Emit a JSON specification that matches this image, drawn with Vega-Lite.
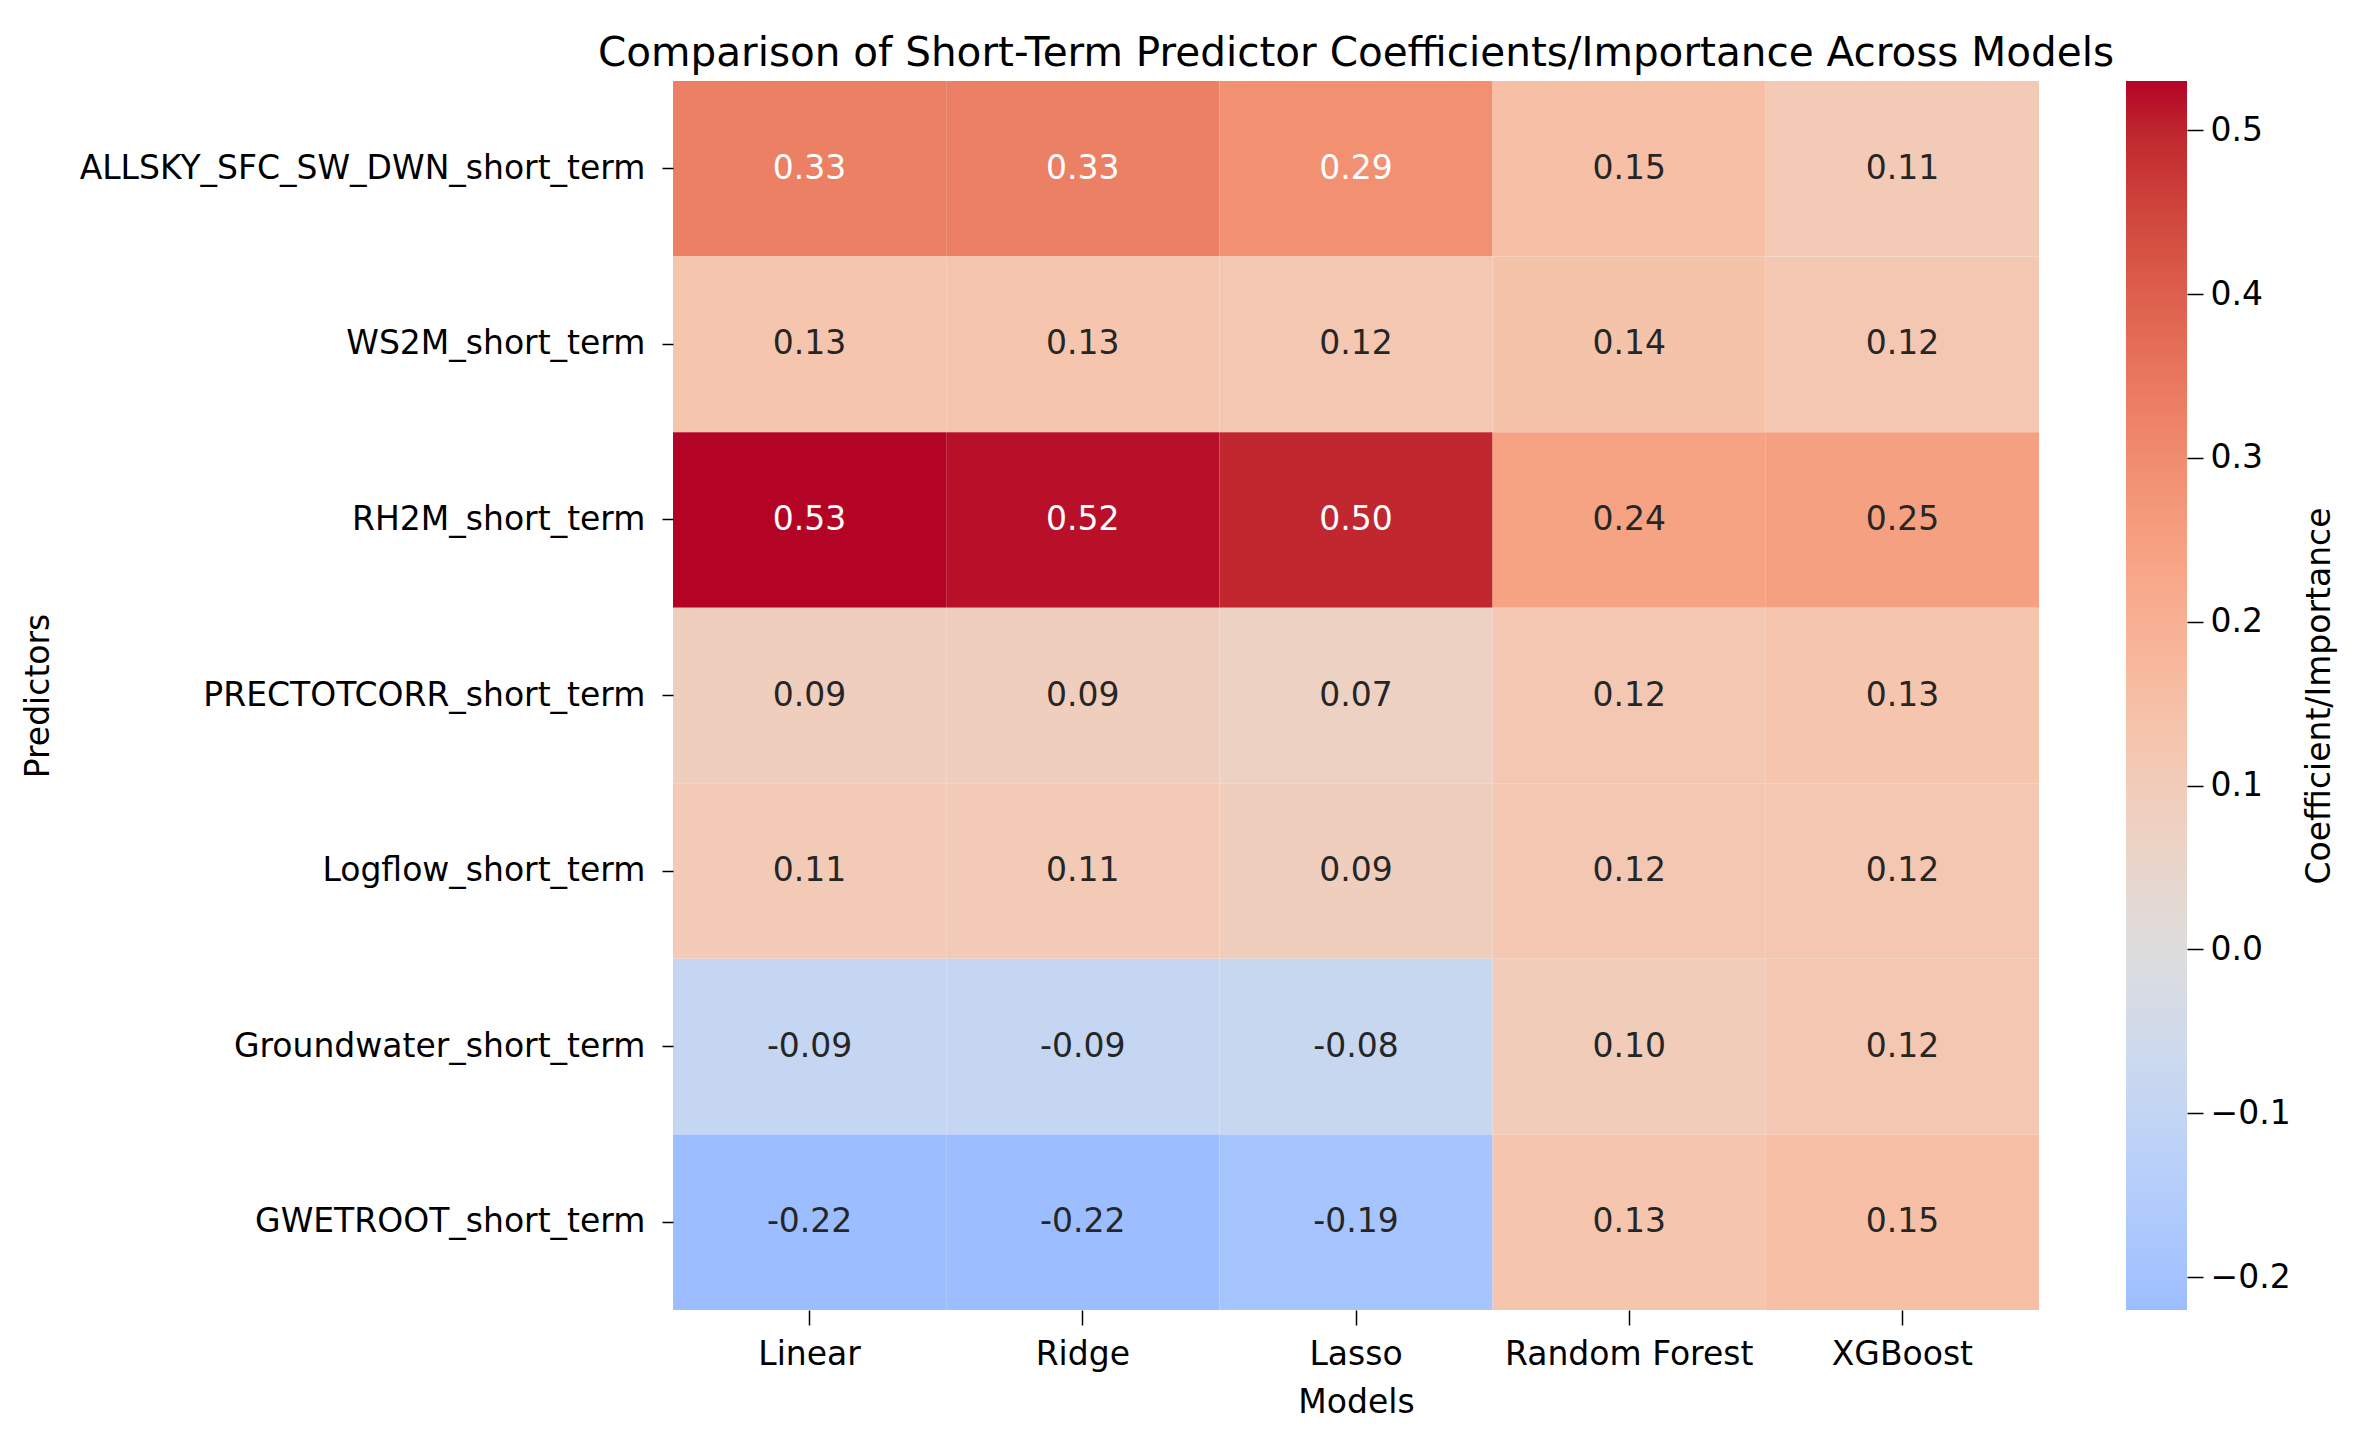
{
  "$schema": "https://vega.github.io/schema/vega-lite/v6.json",
  "autosize": {"type": "pad"},
  "padding": {"left": 22, "top": 33, "right": 5, "bottom": 5},
  "background": "white",
  "data": {
    "values": [
      {"predictor": "ALLSKY_SFC_SW_DWN_short_term", "model": "Linear", "value": 0.33},
      {"predictor": "ALLSKY_SFC_SW_DWN_short_term", "model": "Ridge", "value": 0.33},
      {"predictor": "ALLSKY_SFC_SW_DWN_short_term", "model": "Lasso", "value": 0.29},
      {"predictor": "ALLSKY_SFC_SW_DWN_short_term", "model": "Random Forest", "value": 0.15},
      {"predictor": "ALLSKY_SFC_SW_DWN_short_term", "model": "XGBoost", "value": 0.11},
      {"predictor": "WS2M_short_term", "model": "Linear", "value": 0.13},
      {"predictor": "WS2M_short_term", "model": "Ridge", "value": 0.13},
      {"predictor": "WS2M_short_term", "model": "Lasso", "value": 0.12},
      {"predictor": "WS2M_short_term", "model": "Random Forest", "value": 0.14},
      {"predictor": "WS2M_short_term", "model": "XGBoost", "value": 0.12},
      {"predictor": "RH2M_short_term", "model": "Linear", "value": 0.53},
      {"predictor": "RH2M_short_term", "model": "Ridge", "value": 0.52},
      {"predictor": "RH2M_short_term", "model": "Lasso", "value": 0.50},
      {"predictor": "RH2M_short_term", "model": "Random Forest", "value": 0.24},
      {"predictor": "RH2M_short_term", "model": "XGBoost", "value": 0.25},
      {"predictor": "PRECTOTCORR_short_term", "model": "Linear", "value": 0.09},
      {"predictor": "PRECTOTCORR_short_term", "model": "Ridge", "value": 0.09},
      {"predictor": "PRECTOTCORR_short_term", "model": "Lasso", "value": 0.07},
      {"predictor": "PRECTOTCORR_short_term", "model": "Random Forest", "value": 0.12},
      {"predictor": "PRECTOTCORR_short_term", "model": "XGBoost", "value": 0.13},
      {"predictor": "Logflow_short_term", "model": "Linear", "value": 0.11},
      {"predictor": "Logflow_short_term", "model": "Ridge", "value": 0.11},
      {"predictor": "Logflow_short_term", "model": "Lasso", "value": 0.09},
      {"predictor": "Logflow_short_term", "model": "Random Forest", "value": 0.12},
      {"predictor": "Logflow_short_term", "model": "XGBoost", "value": 0.12},
      {"predictor": "Groundwater_short_term", "model": "Linear", "value": -0.09},
      {"predictor": "Groundwater_short_term", "model": "Ridge", "value": -0.09},
      {"predictor": "Groundwater_short_term", "model": "Lasso", "value": -0.08},
      {"predictor": "Groundwater_short_term", "model": "Random Forest", "value": 0.10},
      {"predictor": "Groundwater_short_term", "model": "XGBoost", "value": 0.12},
      {"predictor": "GWETROOT_short_term", "model": "Linear", "value": -0.22},
      {"predictor": "GWETROOT_short_term", "model": "Ridge", "value": -0.22},
      {"predictor": "GWETROOT_short_term", "model": "Lasso", "value": -0.19},
      {"predictor": "GWETROOT_short_term", "model": "Random Forest", "value": 0.13},
      {"predictor": "GWETROOT_short_term", "model": "XGBoost", "value": 0.15}
    ]
  },
  "spacing": 11,
  "hconcat": [
    {
      "width": 1366,
      "height": 1229,
      "title": {
        "text": "Comparison of Short-Term Predictor Coefficients/Importance Across Models",
        "frame": "group",
        "anchor": "middle",
        "offset": 7
      },
      "encoding": {
        "x": {
          "field": "model",
          "type": "nominal",
          "sort": ["Linear", "Ridge", "Lasso", "Random Forest", "XGBoost"],
          "title": "Models",
          "scale": {"paddingInner": 0, "paddingOuter": 0},
          "axis": {"labelAngle": 0, "tickSize": 15, "labelPadding": 13, "titlePadding": 15}
        },
        "y": {
          "field": "predictor",
          "type": "nominal",
          "sort": ["ALLSKY_SFC_SW_DWN_short_term", "WS2M_short_term", "RH2M_short_term", "PRECTOTCORR_short_term", "Logflow_short_term", "Groundwater_short_term", "GWETROOT_short_term"],
          "title": "Predictors",
          "scale": {"paddingInner": 0, "paddingOuter": 0},
          "axis": {"tickSize": 11, "labelPadding": 17, "titleX": -635, "titleBaseline": "middle", "titleAngle": 270}
        }
      },
      "layer": [
        {
          "mark": {"type": "rect"},
          "encoding": {
            "color": {
              "field": "value",
              "type": "quantitative",
              "legend": null,
              "scale": {
                "type": "linear",
                "interpolate": "rgb",
                "domain": [-0.22, -0.1995, -0.1663, -0.133, -0.0998, -0.0665, -0.0333, 0, 0.0333, 0.0665, 0.0998, 0.133, 0.1663, 0.1995, 0.2328, 0.266, 0.2993, 0.3325, 0.3658, 0.399, 0.4323, 0.4655, 0.4988, 0.53],
                "range": ["#9cbdff", "#a3c2ff", "#aec9fd", "#b8d0f9", "#c2d5f4", "#ccd9ee", "#d5dbe6", "#dddddd", "#e5d8d1", "#ecd3c5", "#f1ccb9", "#f5c4ad", "#f7bba0", "#f7b194", "#f7a687", "#f49a7b", "#f18d6f", "#ec7f63", "#e57058", "#de604d", "#d55042", "#cb3e38", "#c0282f", "#b40426"]
              }
            }
          }
        },
        {
          "mark": {"type": "text", "fontSize": 33, "font": "DejaVu Sans", "align": "center", "baseline": "middle"},
          "encoding": {
            "text": {"field": "value", "type": "quantitative", "format": ".2f"},
            "color": {
              "condition": {"test": "datum.value > 0.27", "value": "#ffffff"},
              "value": "#262626"
            }
          }
        }
      ]
    },
    {
      "width": 61,
      "height": 1229,
      "mark": {
        "type": "rect",
        "color": {
          "gradient": "linear",
          "x1": 0, "y1": 1, "x2": 0, "y2": 0,
          "stops": [
            {"offset": 0, "color": "#9cbdff"},
            {"offset": 0.0267, "color": "#a3c2ff"},
            {"offset": 0.0709, "color": "#aec9fd"},
            {"offset": 0.1152, "color": "#b8d0f9"},
            {"offset": 0.1594, "color": "#c2d5f4"},
            {"offset": 0.2037, "color": "#ccd9ee"},
            {"offset": 0.2479, "color": "#d5dbe6"},
            {"offset": 0.2922, "color": "#dddddd"},
            {"offset": 0.3365, "color": "#e5d8d1"},
            {"offset": 0.3807, "color": "#ecd3c5"},
            {"offset": 0.4250, "color": "#f1ccb9"},
            {"offset": 0.4691, "color": "#f5c4ad"},
            {"offset": 0.5134, "color": "#f7bba0"},
            {"offset": 0.5576, "color": "#f7b194"},
            {"offset": 0.6019, "color": "#f7a687"},
            {"offset": 0.6461, "color": "#f49a7b"},
            {"offset": 0.6904, "color": "#f18d6f"},
            {"offset": 0.7346, "color": "#ec7f63"},
            {"offset": 0.7789, "color": "#e57058"},
            {"offset": 0.8231, "color": "#de604d"},
            {"offset": 0.8674, "color": "#d55042"},
            {"offset": 0.9115, "color": "#cb3e38"},
            {"offset": 0.9558, "color": "#c0282f"},
            {"offset": 1, "color": "#b40426"}
          ]
        }
      },
      "encoding": {
        "x": {"value": 0},
        "x2": {"value": "width"},
        "y": {
          "aggregate": "min",
          "field": "value",
          "type": "quantitative",
          "scale": {"domain": [-0.22, 0.53], "nice": false, "zero": false},
          "axis": {
            "orient": "right",
            "values": [-0.2, -0.1, 0, 0.1, 0.2, 0.3, 0.4, 0.5],
            "format": ".1f",
            "labelExpr": "replace(datum.label, '-', '\u2212')",
            "tickSize": 16,
            "labelPadding": 7,
            "title": "Coefficient/Importance",
            "titleAngle": 270,
            "titlePadding": 46
          }
        },
        "y2": {"aggregate": "max", "field": "value"}
      }
    }
  ],
  "config": {
    "font": "DejaVu Sans",
    "view": {"stroke": null},
    "title": {"font": "DejaVu Sans", "fontSize": 40.5, "fontWeight": "normal", "color": "#000000"},
    "axis": {
      "domain": false,
      "grid": false,
      "labelFont": "DejaVu Sans",
      "titleFont": "DejaVu Sans",
      "labelFontSize": 33,
      "titleFontSize": 33,
      "titleFontWeight": "normal",
      "labelColor": "#000000",
      "titleColor": "#000000",
      "tickColor": "#000000",
      "tickWidth": 1.5,
      "labelLimit": 1000
    },
    "locale": {
      "number": {"decimal": ".", "thousands": ",", "grouping": [3], "currency": ["$", ""], "minus": "-"}
    }
  }
}
